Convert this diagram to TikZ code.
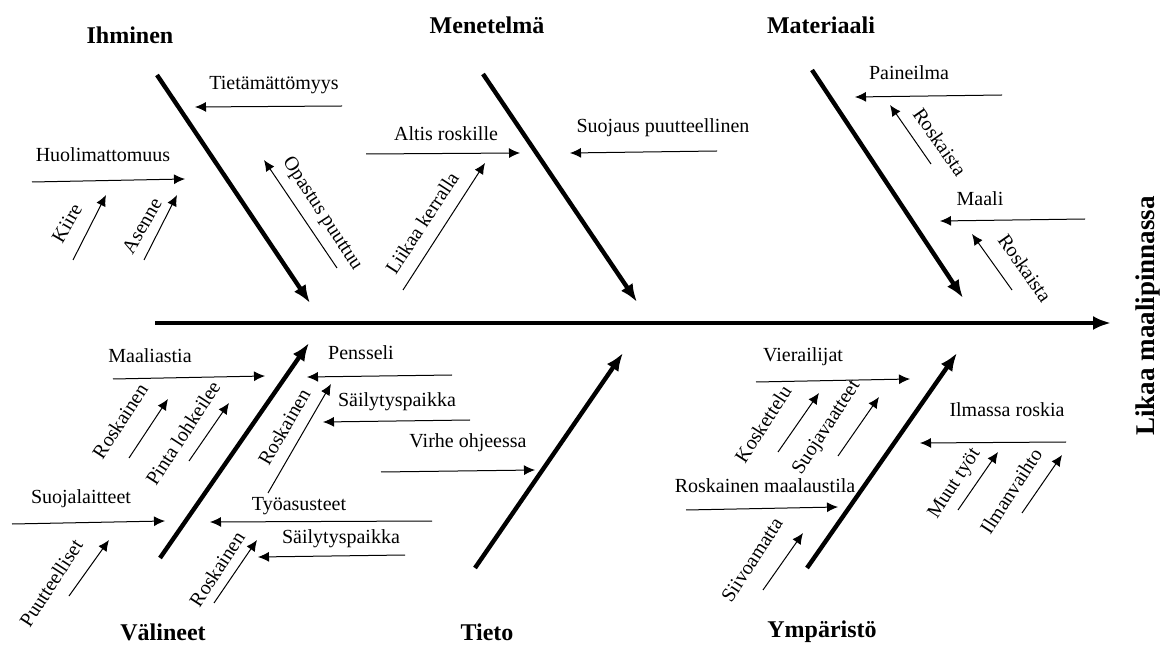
\documentclass[tikz,border=0pt]{standalone}
\usepackage{fontspec}
\setmainfont{Liberation Serif}
\usetikzlibrary{arrows.meta}

\begin{document}
\begin{tikzpicture}[x=0.5pt, y=-0.5pt, line width=0.5pt,
    bone/.style={line width=2.2pt, -{Latex[length=9pt, width=7pt]}},
    cause/.style={-{Latex[length=5.5pt, width=5pt]}},
    title/.style={font=\bfseries\fontsize{12}{14}\selectfont},
    lbl/.style={font=\fontsize{10}{12}\selectfont, inner sep=0pt, anchor=base},
    rlbl/.style={font=\fontsize{10}{12}\selectfont, inner sep=0pt}]
    \useasboundingbox (0, 0) rectangle (1162, 646);

    % draw spine and effect
    \coordinate (spine-s) at (155, 323);
    \coordinate (spine-e) at (1111, 323);
    \draw[bone] (spine-s) -- (spine-e);
    \node[font=\bfseries\fontsize{13.5}{16}\selectfont, rotate=90] (effect) at (1148, 316) {Likaa maalipinnassa};

    % draw main bones
    \coordinate (ihm-s) at (157, 75);   \coordinate (ihm-e) at (310, 303);
    \coordinate (men-s) at (483, 74);   \coordinate (men-e) at (637, 302);
    \coordinate (mat-s) at (812, 70);   \coordinate (mat-e) at (963, 298);
    \coordinate (val-s) at (160, 558);  \coordinate (val-e) at (309, 343);
    \coordinate (tie-s) at (475, 568);  \coordinate (tie-e) at (623, 353);
    \coordinate (ymp-s) at (807, 568);  \coordinate (ymp-e) at (957, 353);
    \draw[bone] (ihm-s) -- (ihm-e);
    \draw[bone] (men-s) -- (men-e);
    \draw[bone] (mat-s) -- (mat-e);
    \draw[bone] (val-s) -- (val-e);
    \draw[bone] (tie-s) -- (tie-e);
    \draw[bone] (ymp-s) -- (ymp-e);

    % draw category titles
    \node[title] (ihminen) at (130, 35) {Ihminen};
    \node[title] (menetelma) at (487, 25) {Menetelmä};
    \node[title] (materiaali) at (821, 25) {Materiaali};
    \node[title] (valineet) at (163, 632) {Välineet};
    \node[title] (tieto) at (487, 632) {Tieto};
    \node[title] (ymparisto) at (822, 632) {Ympäristö};

    % Ihminen
    \node[lbl] (tietam) at (274, 90) {Tietämättömyys};
    \coordinate (tietam-s) at (342, 106);  \coordinate (tietam-e) at (195, 107);
    \draw[cause] (tietam-s) -- (tietam-e);
    \node[lbl] (huolim) at (103, 162) {Huolimattomuus};
    \coordinate (huolim-s) at (32, 182);   \coordinate (huolim-e) at (185, 179);
    \draw[cause] (huolim-s) -- (huolim-e);
    \node[rlbl, rotate=60] (kiire) at (67, 223) {Kiire};
    \coordinate (kiire-s) at (73, 260);    \coordinate (kiire-e) at (106, 195);
    \draw[cause] (kiire-s) -- (kiire-e);
    \node[rlbl, rotate=60] (asenne) at (142, 226) {Asenne};
    \coordinate (asenne-s) at (144, 260);  \coordinate (asenne-e) at (177, 195);
    \draw[cause] (asenne-s) -- (asenne-e);
    \node[rlbl, rotate=-57] (opastus) at (322, 214) {Opastus puuttuu};
    \coordinate (opastus-s) at (337, 268); \coordinate (opastus-e) at (264, 160);
    \draw[cause] (opastus-s) -- (opastus-e);

    % Menetelmä
    \node[lbl] (altis) at (446, 141) {Altis roskille};
    \coordinate (altis-s) at (366, 154);   \coordinate (altis-e) at (520, 153);
    \draw[cause] (altis-s) -- (altis-e);
    \node[lbl] (suojaus) at (663, 133) {Suojaus puutteellinen};
    \coordinate (suojaus-s) at (717, 151); \coordinate (suojaus-e) at (570, 153);
    \draw[cause] (suojaus-s) -- (suojaus-e);
    \node[rlbl, rotate=57] (liikaa) at (422, 223) {Liikaa kerralla};
    \coordinate (liikaa-s) at (403, 290);  \coordinate (liikaa-e) at (485, 163);
    \draw[cause] (liikaa-s) -- (liikaa-e);

    % Materiaali
    \node[lbl] (paineilma) at (909, 80) {Paineilma};
    \coordinate (paineilma-s) at (1002, 95); \coordinate (paineilma-e) at (855, 97);
    \draw[cause] (paineilma-s) -- (paineilma-e);
    \node[rlbl, rotate=-55] (roskaista1) at (940, 142) {Roskaista};
    \coordinate (roskaista1-s) at (931, 164); \coordinate (roskaista1-e) at (890, 105);
    \draw[cause] (roskaista1-s) -- (roskaista1-e);
    \node[lbl] (maali) at (980, 206) {Maali};
    \coordinate (maali-s) at (1085, 219);  \coordinate (maali-e) at (940, 221);
    \draw[cause] (maali-s) -- (maali-e);
    \node[rlbl, rotate=-55] (roskaista2) at (1025, 268) {Roskaista};
    \coordinate (roskaista2-s) at (1012, 290); \coordinate (roskaista2-e) at (972, 234);
    \draw[cause] (roskaista2-s) -- (roskaista2-e);

    % Välineet
    \node[lbl] (maaliastia) at (150, 363) {Maaliastia};
    \coordinate (maaliastia-s) at (113, 379); \coordinate (maaliastia-e) at (265, 376);
    \draw[cause] (maaliastia-s) -- (maaliastia-e);
    \node[rlbl, rotate=57] (roskainen1) at (120, 421) {Roskainen};
    \coordinate (roskainen1-s) at (129, 458); \coordinate (roskainen1-e) at (168, 399);
    \draw[cause] (roskainen1-s) -- (roskainen1-e);
    \node[rlbl, rotate=57] (pinta) at (183, 433) {Pinta lohkeilee};
    \coordinate (pinta-s) at (189, 461);   \coordinate (pinta-e) at (229, 403);
    \draw[cause] (pinta-s) -- (pinta-e);
    \node[lbl] (suojalaitteet) at (81, 503) {Suojalaitteet};
    \coordinate (suojalaitteet-s) at (12, 524); \coordinate (suojalaitteet-e) at (165, 521);
    \draw[cause] (suojalaitteet-s) -- (suojalaitteet-e);
    \node[rlbl, rotate=57] (puutteelliset) at (51, 583) {Puutteelliset};
    \coordinate (puutteelliset-s) at (69, 596); \coordinate (puutteelliset-e) at (109, 540);
    \draw[cause] (puutteelliset-s) -- (puutteelliset-e);
    \node[lbl] (pensseli) at (361, 360) {Pensseli};
    \coordinate (pensseli-s) at (452, 375); \coordinate (pensseli-e) at (307, 377);
    \draw[cause] (pensseli-s) -- (pensseli-e);
    \node[rlbl, rotate=60] (roskainen2) at (284, 427) {Roskainen};
    \coordinate (roskainen2-s) at (268, 493); \coordinate (roskainen2-e) at (331, 384);
    \draw[cause] (roskainen2-s) -- (roskainen2-e);
    \node[lbl] (sailytys1) at (397, 407) {Säilytyspaikka};
    \coordinate (sailytys1-s) at (470, 420); \coordinate (sailytys1-e) at (323, 422);
    \draw[cause] (sailytys1-s) -- (sailytys1-e);
    \node[lbl] (tyoasusteet) at (299, 510) {Työasusteet};
    \coordinate (tyoasusteet-s) at (432, 521); \coordinate (tyoasusteet-e) at (210, 522);
    \draw[cause] (tyoasusteet-s) -- (tyoasusteet-e);
    \node[lbl] (sailytys2) at (341, 543) {Säilytyspaikka};
    \coordinate (sailytys2-s) at (405, 555); \coordinate (sailytys2-e) at (258, 557);
    \draw[cause] (sailytys2-s) -- (sailytys2-e);
    \node[rlbl, rotate=57] (roskainen3) at (217, 569) {Roskainen};
    \coordinate (roskainen3-s) at (214, 603); \coordinate (roskainen3-e) at (257, 540);
    \draw[cause] (roskainen3-s) -- (roskainen3-e);

    % Tieto
    \node[lbl] (virhe) at (468, 448) {Virhe ohjeessa};
    \coordinate (virhe-s) at (381, 472);   \coordinate (virhe-e) at (535, 470);
    \draw[cause] (virhe-s) -- (virhe-e);

    % Ympäristö
    \node[lbl] (vierailijat) at (803, 362) {Vierailijat};
    \coordinate (vierailijat-s) at (756, 382); \coordinate (vierailijat-e) at (910, 379);
    \draw[cause] (vierailijat-s) -- (vierailijat-e);
    \node[rlbl, rotate=57] (koskettelu) at (763, 424) {Koskettelu};
    \coordinate (koskettelu-s) at (778, 452); \coordinate (koskettelu-e) at (819, 393);
    \draw[cause] (koskettelu-s) -- (koskettelu-e);
    \node[rlbl, rotate=57] (suojavaatteet) at (827, 428) {Suojavaatteet};
    \coordinate (suojavaatteet-s) at (838, 456); \coordinate (suojavaatteet-e) at (879, 397);
    \draw[cause] (suojavaatteet-s) -- (suojavaatteet-e);
    \node[lbl] (maalaustila) at (765, 493) {Roskainen maalaustila};
    \coordinate (maalaustila-s) at (686, 510); \coordinate (maalaustila-e) at (838, 507);
    \draw[cause] (maalaustila-s) -- (maalaustila-e);
    \node[rlbl, rotate=57] (siivoamatta) at (752, 560) {Siivoamatta};
    \coordinate (siivoamatta-s) at (763, 590); \coordinate (siivoamatta-e) at (803, 533);
    \draw[cause] (siivoamatta-s) -- (siivoamatta-e);
    \node[lbl] (ilmassa) at (1007, 417) {Ilmassa roskia};
    \coordinate (ilmassa-s) at (1066, 442); \coordinate (ilmassa-e) at (920, 443);
    \draw[cause] (ilmassa-s) -- (ilmassa-e);
    \node[rlbl, rotate=57] (muut) at (955, 484) {Muut työt};
    \coordinate (muut-s) at (958, 510);    \coordinate (muut-e) at (998, 452);
    \draw[cause] (muut-s) -- (muut-e);
    \node[rlbl, rotate=57] (ilmanvaihto) at (1011, 491) {Ilmanvaihto};
    \coordinate (ilmanvaihto-s) at (1022, 513); \coordinate (ilmanvaihto-e) at (1062, 455);
    \draw[cause] (ilmanvaihto-s) -- (ilmanvaihto-e);
\end{tikzpicture}
\end{document}
